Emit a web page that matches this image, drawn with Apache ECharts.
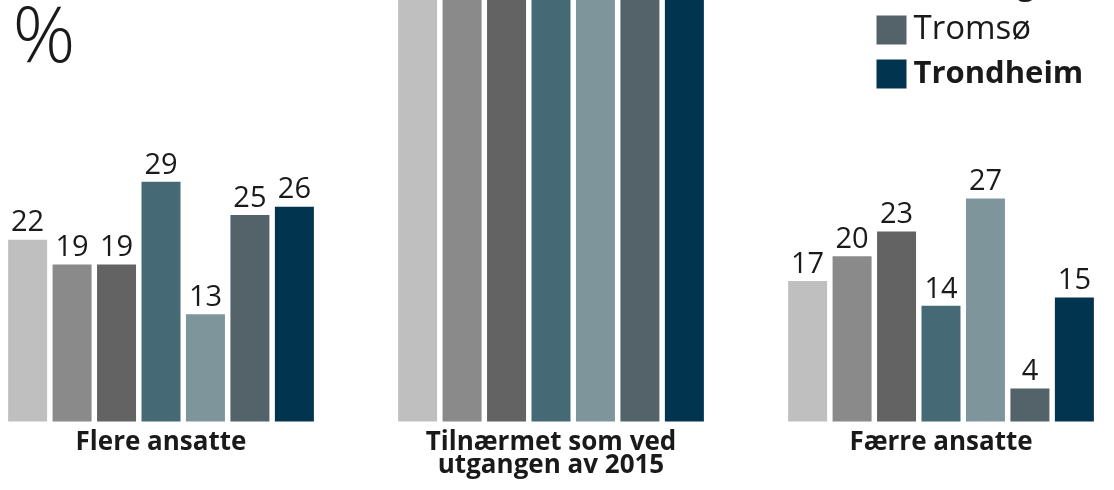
<!DOCTYPE html>
<html>
<head>
<meta charset="utf-8">
<script src="https://cdn.jsdelivr.net/npm/echarts@6/dist/echarts.min.js"></script>
<style>html,body{margin:0;padding:0;background:#fff;overflow:hidden;width:1114px;height:490px;}#c{position:absolute;left:-34.5px;top:0;width:1170px;height:490px;}</style>
</head>
<body>
<div id="c"></div>
<script>
const categories = ['Flere ansatte', 'Tilnærmet som ved\nutgangen av 2015', 'Færre ansatte'];
const seriesNames = ['Hele landet', 'Oslo', 'Bergen', 'Kristiansand', 'Stavanger', 'Tromsø', 'Trondheim'];
const seriesColors = ['#bfbfbf', '#8a8a8a', '#636363', '#456a75', '#7f959c', '#54636a', '#00344f'];
const valHeleLandet = [22, 61, 17];
const valOslo = [19, 61, 20];
const valBergen = [19, 58, 23];
const valKristiansand = [29, 57, 14];
const valStavanger = [13, 60, 27];
const valTromso = [25, 71, 4];
const valTrondheim = [26, 59, 15];
const allValues = [valHeleLandet, valOslo, valBergen, valKristiansand, valStavanger, valTromso, valTrondheim];

const OFFSET = 34.5;
const chart = echarts.init(document.getElementById('c'), null, {renderer: 'canvas'});
const series = seriesNames.map((name, i) => ({
  name: name,
  type: 'bar',
  data: allValues[i],
  barWidth: 39,
  barGap: '14%',
  clip: true,
  itemStyle: {color: seriesColors[i]},
  label: {
    show: true,
    position: 'top',
    distance: 2,
    fontFamily: 'Open Sans',
    fontSize: 29,
    color: '#1a1a1a',
    formatter: p => (p.dataIndex === 1 ? '' : String(p.value))
  }
}));

chart.setOption({
  animation: false,
  grid: {left: 0, right: 0, top: 0, bottom: 68.4, containLabel: false},
  xAxis: {
    type: 'category',
    data: categories,
    axisLine: {show: false},
    axisTick: {show: false},
    axisLabel: {
      margin: 9,
      interval: 0,
      fontFamily: 'Open Sans',
      fontWeight: 'bold',
      fontSize: 26,
      lineHeight: 23,
      color: '#1a1a1a'
    }
  },
  yAxis: {
    type: 'value',
    min: 0,
    max: 51,
    show: false,
    splitLine: {show: false}
  },
  legend: {
    orient: 'vertical',
    left: 876 + OFFSET,
    top: -211.5,
    padding: 0,
    itemWidth: 30,
    itemHeight: 29,
    itemGap: 12,
    icon: 'rect',
    selectedMode: false,
    data: seriesNames,
    formatter: n => (n === 'Trondheim' ? '{b|' + n + '}' : '{r|' + n + '}'),
    textStyle: {
      color: '#1a1a1a',
      padding: [0, 0, 0, 2],
      rich: {
        r: {fontFamily: 'Open Sans', fontSize: 33, lineHeight: 29, color: '#1a1a1a'},
        b: {fontFamily: 'Open Sans', fontWeight: 'bold', fontSize: 31, lineHeight: 29, color: '#1a1a1a'}
      }
    }
  },
  graphic: [{
    type: 'text',
    left: 12 + OFFSET,
    top: 1,
    style: {text: '%', fontFamily: 'Open Sans', fontWeight: 300, fontSize: 78, fill: '#1a1a1a'}
  }],
  series: series
});
</script>
</body>
</html>
